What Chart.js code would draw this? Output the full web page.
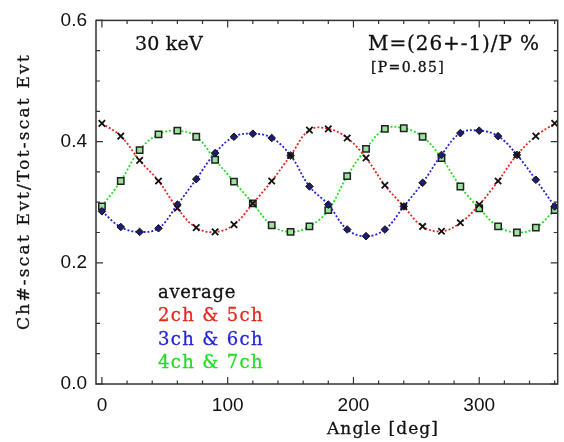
<!doctype html>
<html lang="en">
  <head>
    <meta charset="utf-8">
    <title>30 keV modulation</title>
    <script src="https://cdn.jsdelivr.net/npm/chart.js@4/dist/chart.umd.min.js"></script>
    <style>
      html, body { margin: 0; padding: 0; background: #fff; }
      #wrap { width: 564px; height: 442px; }
    </style>
  </head>
  <body>
    <div id="wrap"><canvas id="modChart" width="564" height="442"></canvas></div>

    <script>
    // angles (deg) and averaged channel ratios
    var angles = [0, 15, 30, 45, 60, 75, 90, 105, 120, 135, 150, 165, 180,
                  195, 210, 225, 240, 255, 270, 285, 300, 315, 330, 345, 360];

    var ch25 = [0.430, 0.409, 0.369, 0.335, 0.290, 0.258, 0.251, 0.263, 0.298, 0.335, 0.377, 0.419, 0.421,
                0.406, 0.373, 0.328, 0.293, 0.260, 0.252, 0.266, 0.296, 0.335, 0.378, 0.409, 0.430];
    var ch36 = [0.285, 0.259, 0.251, 0.257, 0.296, 0.338, 0.381, 0.408, 0.413, 0.406, 0.377, 0.326, 0.296,
                0.255, 0.244, 0.255, 0.293, 0.332, 0.378, 0.414, 0.418, 0.409, 0.378, 0.337, 0.293];
    var ch47 = [0.293, 0.335, 0.386, 0.412, 0.418, 0.408, 0.370, 0.334, 0.298, 0.262, 0.251, 0.260, 0.287,
                0.343, 0.388, 0.421, 0.422, 0.408, 0.373, 0.326, 0.290, 0.260, 0.250, 0.258, 0.287];

    var xTicks = [0, 100, 200, 300];
    var yTicks = [0, 0.2, 0.4, 0.6];

    function pts(ys) {
      return angles.map(function (a, i) { return { x: a, y: ys[i] }; });
    }

    // spread the text out so it spans w pixels, like the wide IDL font
    function wideText(c, s, x, y, w) {
      c.letterSpacing = '0px';
      var m = c.measureText(s).width;
      c.letterSpacing = ((w - m) / s.length) + 'px';
      c.strokeStyle = c.fillStyle;
      c.lineWidth = 0.3;
      c.fillText(s, x, y);
      c.strokeText(s, x, y);
      c.letterSpacing = '0px';
    }

    // IDL style box: frame, inward ticks, text annotations
    var idlFrame = {
      id: 'idlFrame',
      afterDraw: function (chart) {
        var c = chart.ctx, a = chart.chartArea;
        var xs = chart.scales.x, ys = chart.scales.y;
        c.save();
        c.strokeStyle = '#333';
        c.lineWidth = 1.5;
        c.strokeRect(a.left, a.top, a.right - a.left, a.bottom - a.top);
        c.lineWidth = 1.2;
        c.beginPath();
        for (var v = 0; v <= 360; v += 20) {
          var px = xs.getPixelForValue(v);
          var len = (v % 100 === 0) ? 7 : 3.5;
          c.moveTo(px, a.bottom); c.lineTo(px, a.bottom - len);
          c.moveTo(px, a.top); c.lineTo(px, a.top + len);
        }
        for (var k = 0; k <= 12; k++) {
          var py = ys.getPixelForValue(k * 0.05);
          var ln = (k % 4 === 0) ? 7 : 4;
          c.moveTo(a.left, py); c.lineTo(a.left + ln, py);
          c.moveTo(a.right, py); c.lineTo(a.right - ln, py);
        }
        c.stroke();

        c.fillStyle = '#111';
        c.textBaseline = 'alphabetic';
        c.textAlign = 'left';
        c.font = '19px "DejaVu Serif"';
        wideText(c, '30 keV', 135, 50, 68);
        c.font = '20px "DejaVu Serif"';
        wideText(c, 'M=(26+-1)/P %', 368, 50, 172);
        c.font = '14px "DejaVu Serif"';
        wideText(c, '[P=0.85]', 371, 72, 74);

        c.font = '18px "DejaVu Serif"';
        c.fillStyle = '#111';
        wideText(c, 'average', 158, 298, 78);
        c.fillStyle = '#e8261e';
        wideText(c, '2ch & 5ch', 158, 321, 106);
        c.fillStyle = '#2424d8';
        wideText(c, '3ch & 6ch', 158, 345, 106);
        c.fillStyle = '#22dd22';
        wideText(c, '4ch & 7ch', 158, 368, 106);

        // axis titles
        c.fillStyle = '#111';
        c.font = '17px "DejaVu Serif"';
        wideText(c, 'Angle [deg]', 327, 434, 112);
        c.translate(29, 330);
        c.rotate(-Math.PI / 2);
        wideText(c, 'Ch#-scat Evt/Tot-scat Evt', 0, 0, 277);
        c.restore();
      }
    };

    var ctx = document.getElementById('modChart');
    var myChart = new Chart(ctx, {
      type: 'line',
      data: {
        datasets: [
          {
            label: '2ch & 5ch',
            data: pts(ch25),
            borderColor: '#e8261e',
            borderWidth: 1.8,
            borderDash: [2, 2],
            tension: 0.4,
            pointStyle: 'crossRot',
            pointRadius: 4.5,
            pointBorderColor: '#111',
            pointBorderWidth: 1.8,
            pointBackgroundColor: '#111'
          },
          {
            label: '3ch & 6ch',
            data: pts(ch36),
            borderColor: '#2424d8',
            borderWidth: 1.8,
            borderDash: [2, 2],
            tension: 0.4,
            pointStyle: 'rectRot',
            pointRadius: 3.8,
            pointBorderColor: '#111',
            pointBorderWidth: 1,
            pointBackgroundColor: '#1c1c70'
          },
          {
            label: '4ch & 7ch',
            data: pts(ch47),
            borderColor: '#22dd22',
            borderWidth: 1.8,
            borderDash: [2, 2],
            tension: 0.4,
            pointStyle: 'rect',
            pointRadius: 4.5,
            pointBorderColor: '#222',
            pointBorderWidth: 1.5,
            pointBackgroundColor: '#9be39b'
          }
        ]
      },
      options: {
        responsive: false,
        animation: false,
        layout: { padding: { top: 10, right: 4, left: 0, bottom: 0 } },
        plugins: {
          legend: { display: false },
          tooltip: { enabled: false }
        },
        scales: {
          x: {
            type: 'linear',
            min: -4.7,
            max: 362.4,
            grid: { display: false, drawTicks: false },
            border: { display: false },
            afterBuildTicks: function (s) { s.ticks = xTicks.map(function (v) { return { value: v }; }); },
            afterFit: function (s) { s.height = 58; },
            ticks: {
              padding: 10,
              maxRotation: 0,
              color: '#111',
              font: { family: '"Liberation Sans"', size: 19 }
            }
          },
          y: {
            min: 0,
            max: 0.6,
            grid: { display: false, drawTicks: false },
            border: { display: false },
            afterBuildTicks: function (s) { s.ticks = yTicks.map(function (v) { return { value: v }; }); },
            afterFit: function (s) { s.width = 96; },
            ticks: {
              padding: 9,
              color: '#111',
              font: { family: '"Liberation Sans"', size: 19 },
              callback: function (v) { return Number(v).toFixed(1); }
            }
          }
        }
      },
      plugins: [idlFrame]
    });
    </script>
  </body>
</html>
